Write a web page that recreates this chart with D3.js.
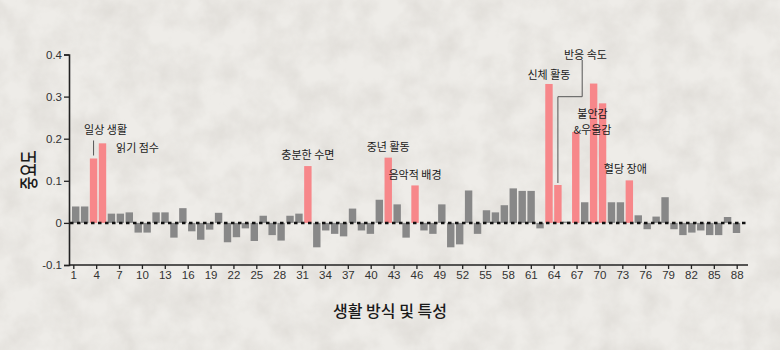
<!DOCTYPE html>
<html>
<head>
<meta charset="utf-8">
<script src="https://cdn.jsdelivr.net/npm/d3@7/dist/d3.min.js"></script>
<style>
  body { margin: 0; background: #ebe9e4; }
  svg { display: block; }
</style>
</head>
<body>
<div id="chart"></div>
<script>
// importance of each lifestyle feature, bars from left to right
var importance = [
    0.039, 0.039, 0.153, 0.189, 0.022, 0.022, 0.025, -0.023, -0.023, 0.025,
    0.025, -0.035, 0.035, -0.020, -0.040, -0.016, 0.024, -0.046, -0.034, -0.013,
    -0.043, 0.017, -0.029, -0.042, 0.017, 0.022, 0.135, -0.058, -0.018, -0.026,
    -0.032, 0.034, -0.018, -0.026, 0.055, 0.155, 0.044, -0.035, 0.089, -0.018,
    -0.026, 0.044, -0.058, -0.051, 0.077, -0.026, 0.030, 0.025, 0.042, 0.082,
    0.076, 0.076, -0.013, 0.330, 0.090, 0.003, 0.216, 0.049, 0.331, 0.284,
    0.049, 0.049, 0.101, 0.018, -0.015, 0.015, 0.061, -0.015, -0.029, -0.023,
    -0.018, -0.029, -0.029, 0.014, -0.024
];

// bars (1-based) drawn in red
var highlighted = [3, 4, 27, 36, 39, 54, 55, 57, 59, 60, 63];

var xTickLabels = [1, 4, 7, 10, 13, 16, 19, 22, 25, 28, 31, 34, 37, 40, 43,
                   46, 49, 52, 55, 58, 61, 64, 67, 70, 73, 76, 79, 82, 85, 88];
var yTickValues = [-0.1, 0, 0.1, 0.2, 0.3, 0.4];

// annotation text and the bar it points at
var labelTexts = ["일상 생활", "읽기 점수", "충분한 수면", "중년 활동", "음악적 배경",
                  "신체 활동", "반응 속도", "불안감", "&우울감", "혈당 장애"];
var labelBars = [3, 4, 27, 36, 39, 54, 55, 57, 57, 63];

var width = 780, height = 350;
var kor = "'Noto Sans CJK KR', 'Noto Sans', sans-serif";

var svg = d3.select("#chart")
    .append("svg")
    .attr("width", width)
    .attr("height", height);

// paper texture
var defs = svg.append("defs");
var grain = defs.append("filter").attr("id", "grain")
    .attr("x", 0).attr("y", 0).attr("width", "100%").attr("height", "100%");
grain.append("feTurbulence")
    .attr("type", "fractalNoise")
    .attr("baseFrequency", 0.035)
    .attr("numOctaves", 4)
    .attr("seed", 7);
grain.append("feColorMatrix")
    .attr("values", "0 0 0 0 0.45  0 0 0 0 0.42  0 0 0 0 0.38  0 0 0 -1.1 0.75");

svg.append("rect")
    .attr("width", width).attr("height", height)
    .attr("fill", "#eeece8");
svg.append("rect")
    .attr("width", width).attr("height", height)
    .attr("filter", "url(#grain)")
    .attr("opacity", 0.35);

// scales
var x = d3.scaleBand()
    .domain(d3.range(1, importance.length + 1))
    .range([72, 740.2])
    .paddingInner(0.17)
    .paddingOuter(0);

var xTick = d3.scaleLinear()
    .domain([1, 88])
    .range([73.3, 736.7]);

var y = d3.scaleLinear()
    .domain([-0.1, 0.4])
    .range([265, 54.5]);

// bars
svg.selectAll("rect.bar")
    .data(importance)
    .enter()
    .append("rect")
    .attr("class", "bar")
    .attr("x", function(d, i) { return x(i + 1); })
    .attr("y", function(d) { return y(Math.max(0, d)); })
    .attr("width", x.bandwidth())
    .attr("height", function(d) { return Math.abs(y(d) - y(0)); })
    .attr("fill", function(d, i) {
        return highlighted.indexOf(i + 1) >= 0 ? "#f7878a" : "#888888";
    });

// dotted zero line
svg.append("line")
    .attr("x1", 70).attr("x2", 746)
    .attr("y1", y(0)).attr("y2", y(0))
    .attr("stroke", "#111")
    .attr("stroke-width", 2.5)
    .attr("stroke-dasharray", "3.5,3.5");

// axes
var yAxis = svg.append("g")
    .attr("transform", "translate(69,0)")
    .call(d3.axisLeft(y)
        .tickValues(yTickValues)
        .tickSize(5)
        .tickPadding(2)
        .tickFormat(function(d) { return d === 0 ? "0" : d3.format(".1f")(d).replace("−", "-"); }));

var xAxis = svg.append("g")
    .attr("transform", "translate(0,265)")
    .call(d3.axisBottom(xTick)
        .tickValues(xTickLabels)
        .tickSize(4)
        .tickPadding(2)
        .tickSizeOuter(0));

xAxis.select(".domain").attr("d", "M69,0H748");

[xAxis, yAxis].forEach(function(g) {
    g.select(".domain").attr("stroke", "#222").attr("stroke-width", 1.6);
    g.selectAll(".tick line").attr("stroke", "#222").attr("stroke-width", 1.3);
    g.selectAll(".tick text")
        .attr("fill", "#333")
        .attr("font-family", "'Liberation Sans Narrow', 'Liberation Sans', sans-serif")
        .attr("font-size", "11.5px");
});

// axis titles
svg.append("text")
    .attr("x", 390).attr("y", 310)
    .attr("text-anchor", "middle")
    .attr("dominant-baseline", "central")
    .attr("font-family", kor)
    .attr("font-size", "16px")
    .attr("font-weight", 500)
    .attr("fill", "#1a1a1a")
    .text("생활 방식 및 특성");

svg.append("text")
    .attr("transform", "translate(28,170) rotate(-90) scale(0.75,1)")
    .attr("text-anchor", "middle")
    .attr("dominant-baseline", "central")
    .attr("font-family", kor)
    .attr("font-size", "19px")
    .attr("font-weight", 500)
    .attr("fill", "#1a1a1a")
    .text("중요도");

// annotation placement: offset from bar centre and from bar top
var labelOffset = [[12, -29], [35, 3.5], [0, -12.5], [0, -12], [0, -11],
                   [0, -10], [27.5, -131], [16.7, -18.7], [16.7, -2.7], [-4, -12]];

var barCentre = function(b) { return x(b) + x.bandwidth() / 2; };
var barTop = function(b) { return y(importance[b - 1]); };

svg.selectAll("text.note")
    .data(labelTexts)
    .enter()
    .append("text")
    .attr("class", "note")
    .attr("x", function(d, i) { return barCentre(labelBars[i]) + labelOffset[i][0]; })
    .attr("y", function(d, i) { return barTop(labelBars[i]) + labelOffset[i][1]; })
    .attr("text-anchor", "middle")
    .attr("dominant-baseline", "central")
    .attr("font-family", kor)
    .attr("font-size", "11px")
    .attr("fill", "#1a1a1a")
    .text(function(d) { return d; });

// leader lines
var c3 = barCentre(3), t3 = barTop(3);
var c55 = barCentre(55), t55 = barTop(55);
var leaders = [
    [[c3, t3 - 18], [c3, t3 - 3]],
    [[c55 + 24.3, 60], [c55 + 24.3, 96.7], [c55, 96.7], [c55, t55 - 2]]
];
svg.selectAll("path.leader")
    .data(leaders)
    .enter()
    .append("path")
    .attr("class", "leader")
    .attr("d", d3.line())
    .attr("fill", "none")
    .attr("stroke", "#555")
    .attr("stroke-width", 1);
</script>
</body>
</html>
